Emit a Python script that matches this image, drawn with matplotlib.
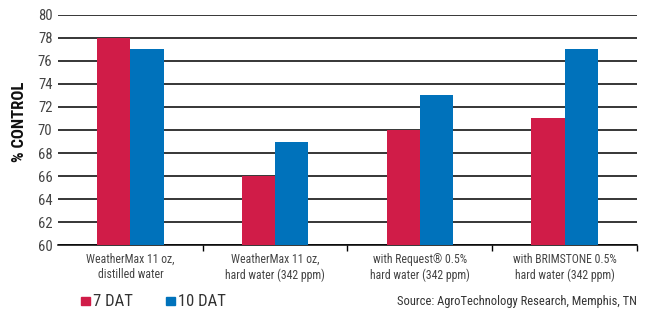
import numpy as np
import matplotlib.pyplot as plt

plt.rcParams['font.family'] = ['Roboto Condensed', 'Open Sans Condensed',
                               'Liberation Sans Narrow', 'Liberation Sans', 'DejaVu Sans']

categories = ["WeatherMax 11 oz,\ndistilled water",
              "WeatherMax 11 oz,\nhard water (342 ppm)",
              "with Request\u00ae 0.5%\nhard water (342 ppm)",
              "with BRIMSTONE 0.5%\nhard water (342 ppm)"]
dat7 = [78, 66, 70, 71]
dat10 = [77, 69, 73, 77]
yticks = [60, 62, 64, 66, 68, 70, 72, 74, 76, 78, 80]

red = "#D01C48"
blue = "#0072BB"

fig = plt.figure(figsize=(6.46, 3.11), dpi=100)
ax = fig.add_axes([0.0898, 0.212, 0.8962, 0.740])

x = np.arange(len(categories))
w = 0.23
ax.bar(x - w / 2, dat7, w, color=red, zorder=3, label="7 DAT")
ax.bar(x + w / 2, dat10, w, color=blue, zorder=3, label="10 DAT")

ax.set_xlim(-0.5, len(categories) - 0.5)
ax.set_ylim(60, 80)
ax.set_yticks(yticks)
ax.tick_params(axis='y', length=0, labelsize=10.5, pad=4, labelcolor="#444444")
for t in yticks:
    ax.axhline(t, color="black", lw=1.1, zorder=1)

# ticks at category boundaries, labels in centres
ax.set_xticks(np.arange(1, len(categories) + 1) - 0.5)
ax.set_xticklabels([])
ax.tick_params(axis='x', length=4, width=1, direction='out', color="black")
for i, c in enumerate(categories):
    ax.text(i, -0.035, c, transform=ax.get_xaxis_transform(), ha='center',
            va='top', fontsize=8.5, color="#444444", linespacing=1.2)

for s in ["top", "right", "left"]:
    ax.spines[s].set_visible(False)
ax.spines["bottom"].set_linewidth(1.1)

fig.text(20 / 646, 1 - 122 / 311, "% CONTROL", fontsize=12, fontweight='bold',
         rotation=90, ha='center', va='center', color="#111111")

# legend
fig.patches.append(plt.Rectangle((81 / 646, 1 - 305 / 311), 9 / 646, 8 / 311,
                                 transform=fig.transFigure, color=red))
fig.text(93 / 646, 1 - 301 / 311, "7 DAT", fontsize=12, va='center', color="#333333")
fig.patches.append(plt.Rectangle((166 / 646, 1 - 305 / 311), 9 / 646, 8 / 311,
                                 transform=fig.transFigure, color=blue))
fig.text(178 / 646, 1 - 301 / 311, "10 DAT", fontsize=12, va='center', color="#333333")

fig.text(637 / 646, 1 - 301 / 311, "Source: AgroTechnology Research, Memphis, TN",
         fontsize=9, ha='right', va='center', color="#333333")

fig.savefig("out.png", dpi=100)
